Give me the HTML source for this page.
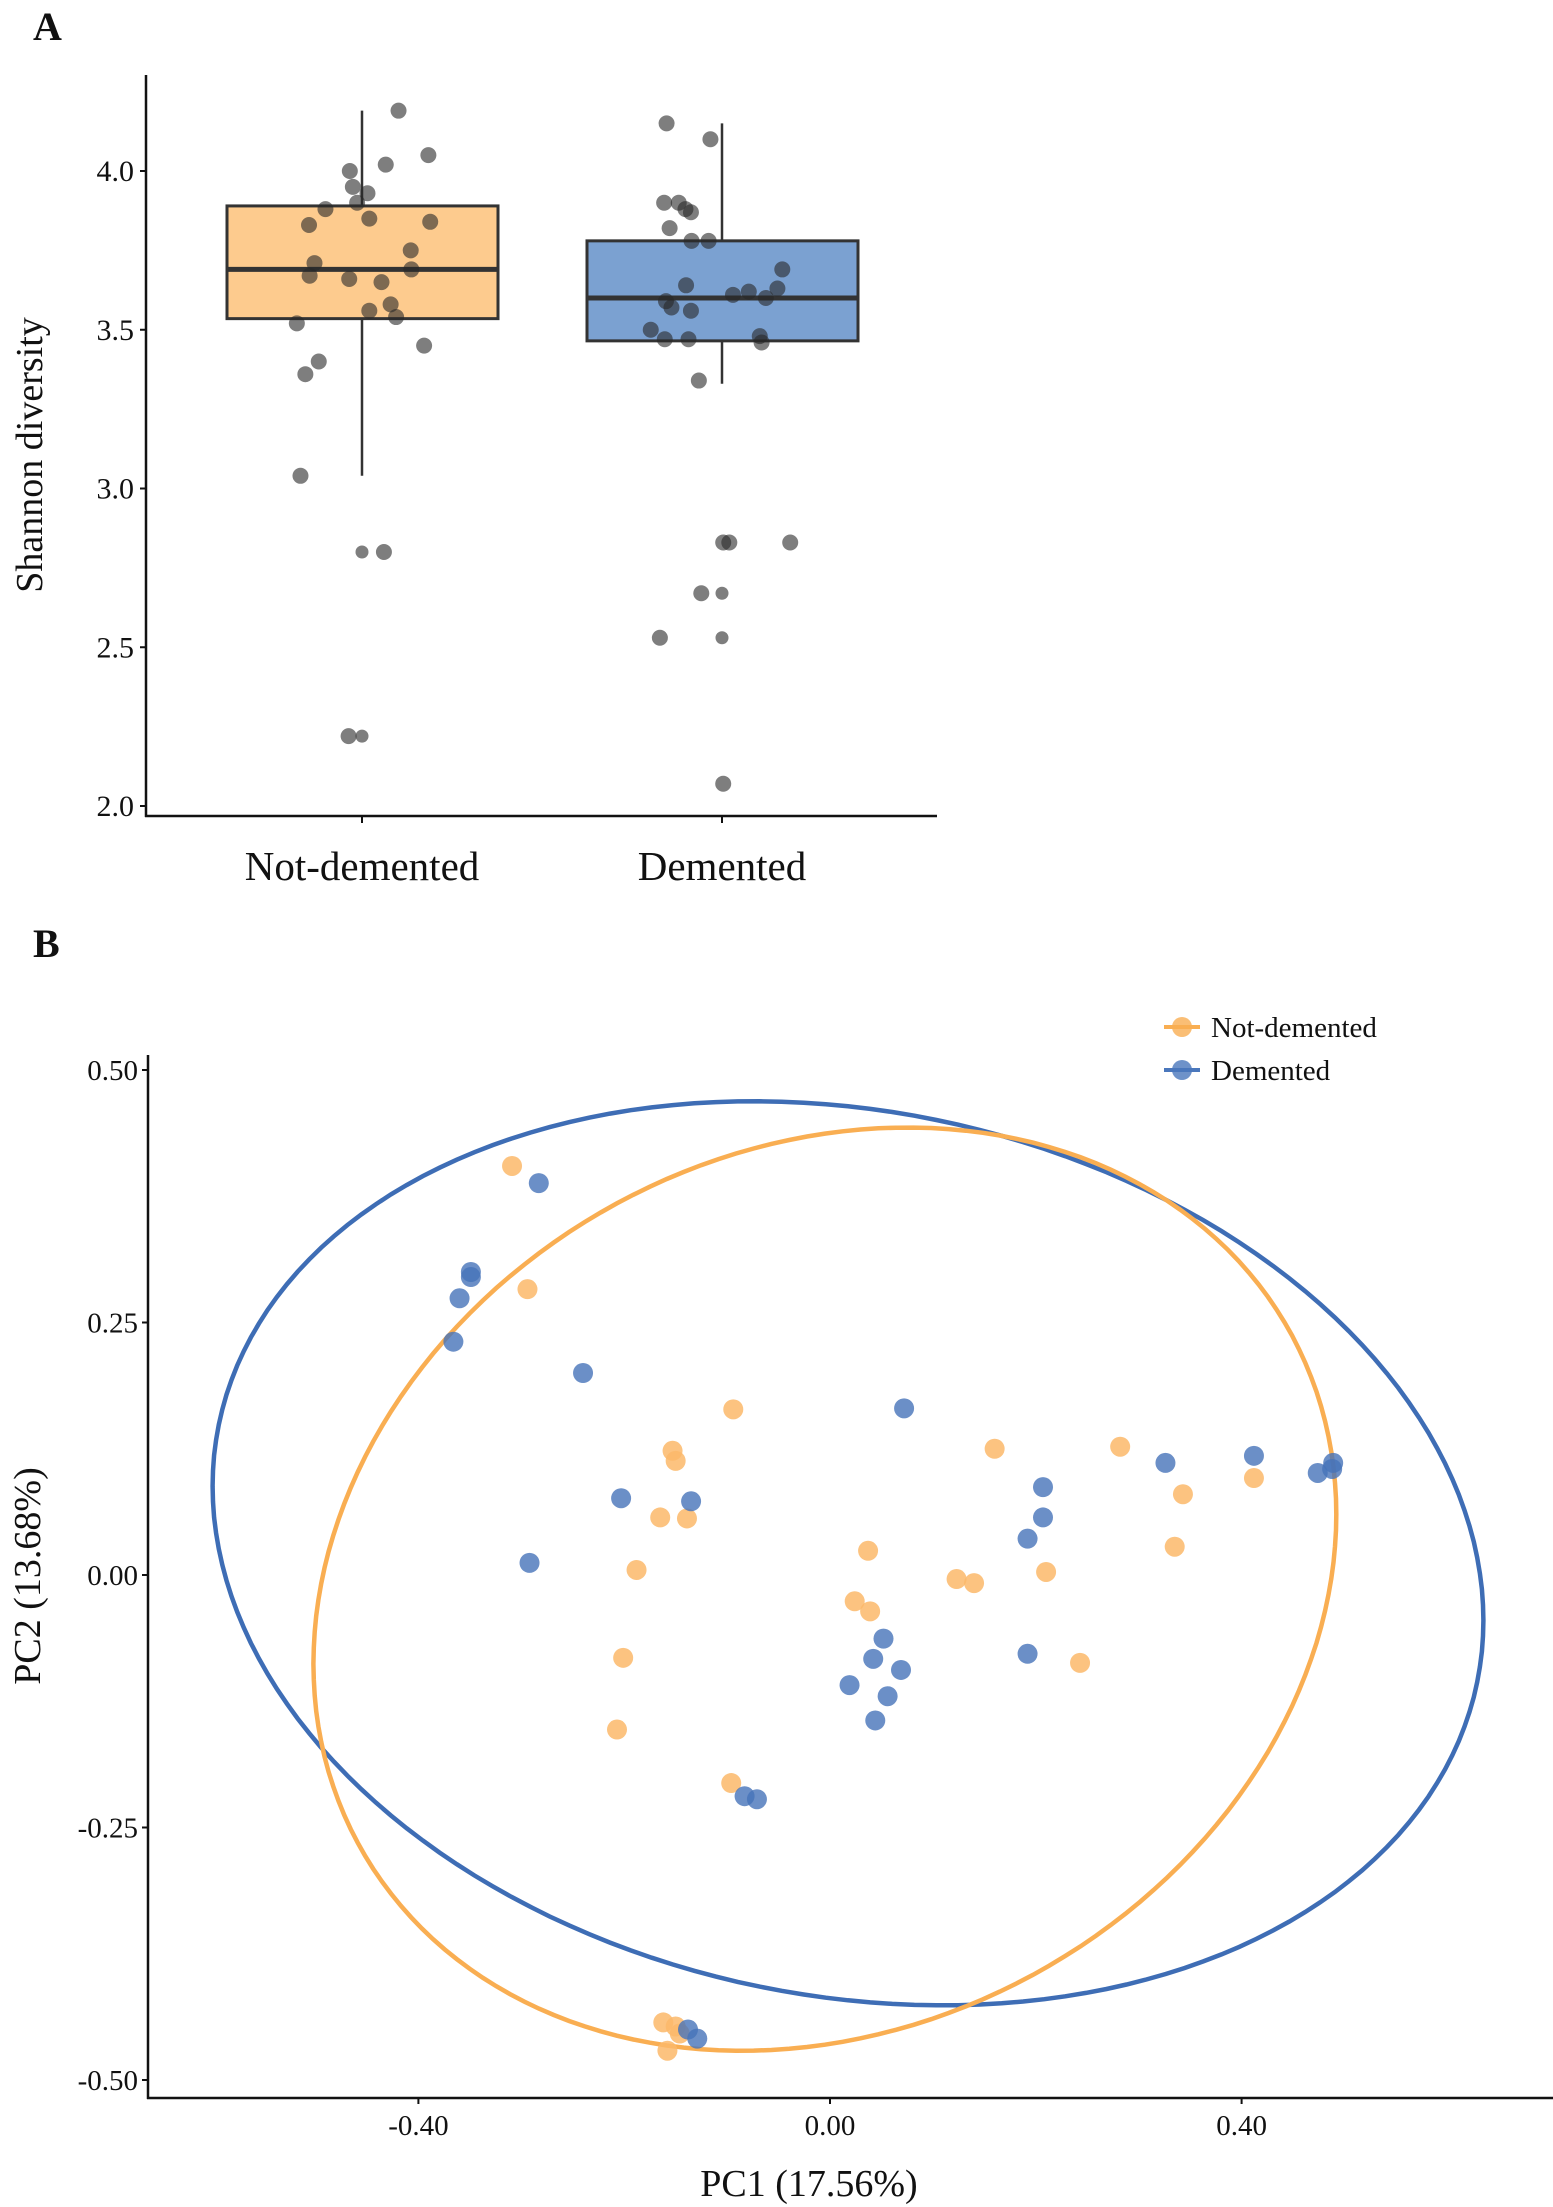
<!DOCTYPE html>
<html><head><meta charset="utf-8"><style>
html,body{margin:0;padding:0;background:#fff;}
svg{display:block;}
text{font-family:"Liberation Serif",serif;fill:#111;}
</style></head><body>
<svg id="fig" width="1553" height="2207" viewBox="0 0 1553 2207">
<text x="33" y="40" font-size="40" font-weight="bold">A</text>
<text x="33" y="957" font-size="40" font-weight="bold">B</text>
<g id="pa"></g>
<g id="pb"></g>
</svg>
<script>
// ---------- Panel A data ----------
const groupsA = ["Not-demented", "Demented"];
const yTicksA = [2.0, 2.5, 3.0, 3.5, 4.0];
const q1A = [3.535, 3.465];
const medA = [3.69, 3.60];
const q3A = [3.89, 3.78];
const whiskLoA = [3.04, 3.33];
const whiskHiA = [4.19, 4.15];
const ndVals = [4.19,4.05,4.00,4.02,3.95,3.93,3.90,3.88,3.85,3.83,3.84,3.71,3.75,3.69,3.67,3.66,3.65,3.58,3.56,3.54,3.52,3.45,3.40,3.36,3.04,2.80,2.80,2.22,2.22];
const ndJit = [60,109,-20,39,-15,9,-8,-60,12,-87,112,-78,80,81,-86,-21,32,47,12,56,-107,102,-71,-93,-101,0,36,-22,0];
const dVals = [4.15,4.10,3.90,3.90,3.88,3.87,3.82,3.78,3.78,3.69,3.64,3.61,3.62,3.63,3.60,3.59,3.57,3.56,3.50,3.48,3.47,3.47,3.46,3.34,2.83,2.83,2.83,2.67,2.67,2.53,2.53,2.07];
const dJit = [-91,-19,-95,-71,-60,-51,-86,-50,-22,99,-59,18,44,91,72,-92,-83,-51,-117,62,-94,-55,65,-38,2,12,112,-34,0,-102,0,2];

const NS="http://www.w3.org/2000/svg";
function mk(tag, attrs, parent){const e=document.createElementNS(NS,tag);for(const k in attrs)e.setAttribute(k,attrs[k]);parent.appendChild(e);return e;}

const pa=document.getElementById('pa');
const yA=v=>806-(v-2.0)*317.5;
const xA=i=>[362,722][i];
const jitScale=1/1.642;
let e;
e=mk('line',{x1:146,y1:75,x2:146,y2:817,stroke:'#111','stroke-width':2.5},pa);


e=mk('line',{x1:145,y1:816,x2:937,y2:816,stroke:'#111','stroke-width':2.5},pa);


yTicksA.forEach(t=>{
  e=mk('line',{x1:140,y1:yA(t),x2:146,y2:yA(t),stroke:'#111','stroke-width':2},pa);
  
  
  e=mk('text',{x:134,y:yA(t)+10,'font-size':30,'text-anchor':'end'},pa);
  e.textContent=t.toFixed(1);
  
  
});
e=mk('text',{x:0,y:0,'font-size':38,'text-anchor':'middle',transform:'translate(42,455) rotate(-90)'},pa);
e.textContent='Shannon diversity';


const fills=['#FDCB8E','#7BA1D1'];
groupsA.forEach((g,i)=>{
  const cx=xA(i);
  e=mk('line',{x1:cx,y1:816,x2:cx,y2:823,stroke:'#111','stroke-width':2},pa);
  
  
  e=mk('text',{x:cx,y:880,'font-size':41,'text-anchor':'middle'},pa);
  e.textContent=g;
  
  
  e=mk('line',{x1:cx,y1:yA(whiskHiA[i]),x2:cx,y2:yA(whiskLoA[i]),stroke:'#333','stroke-width':2.5},pa);
  
  
  e=mk('rect',{x:cx-135,y:yA(q3A[i]),width:271,height:yA(q1A[i])-yA(q3A[i]),fill:fills[i],stroke:'#333','stroke-width':3},pa);
  
  
  e=mk('line',{x1:cx-135,y1:yA(medA[i]),x2:cx+136,y2:yA(medA[i]),stroke:'#333','stroke-width':5},pa);
  
  
});
function ptsA(vals,jit,gi){
  vals.forEach((v,k)=>{
    const small = jit[k]===0;
    e=mk('circle',{cx:xA(gi)+jit[k]*jitScale,cy:yA(v),r:small?6.5:8,fill:'rgba(40,40,40,0.6)'},pa);
    
    
  });
}
ptsA(ndVals,ndJit,0);
ptsA(dVals,dJit,1);

// ---------- Panel B data ----------
const xTicksB = [-0.40, 0.00, 0.40];
const yTicksB = [0.50, 0.25, 0.00, -0.25, -0.50];
const ndPC1 = [-0.309,-0.294,-0.094,-0.153,-0.150,-0.165,-0.139,-0.188,-0.201,-0.207,-0.096,0.037,0.024,0.039,0.123,0.140,0.160,0.210,0.243,0.282,0.343,0.335,0.412,-0.162,-0.150,-0.158,-0.146];
const ndPC2 = [0.405,0.283,0.164,0.123,0.113,0.057,0.056,0.005,-0.082,-0.153,-0.206,0.024,-0.026,-0.036,-0.004,-0.008,0.125,0.003,-0.087,0.127,0.080,0.028,0.096,-0.443,-0.447,-0.471,-0.454];
const dPC1 = [-0.283,-0.349,-0.349,-0.360,-0.366,-0.240,-0.203,-0.135,-0.292,0.072,0.207,0.207,0.192,0.192,0.326,0.412,0.474,0.488,0.489,0.052,0.042,0.069,0.019,0.056,0.044,-0.083,-0.071,-0.138,-0.129];
const dPC2 = [0.388,0.300,0.295,0.274,0.231,0.200,0.076,0.073,0.012,0.165,0.087,0.057,0.036,-0.078,0.111,0.118,0.101,0.105,0.111,-0.063,-0.083,-0.094,-0.109,-0.120,-0.144,-0.219,-0.222,-0.450,-0.459];
const ndEllipse = [-0.005,-0.014,0.497,0.074,0.451];
const dEllipse = [0.0175,0.0215,0.6175,-0.0665,0.4426];

const pb=document.getElementById('pb');
const xB=v=>830+v*1029;
const yB=v=>1575-v*1010;
e=mk('line',{x1:148,y1:1055,x2:148,y2:2099,stroke:'#111','stroke-width':2.5},pb);


e=mk('line',{x1:147,y1:2098,x2:1553,y2:2098,stroke:'#111','stroke-width':2.5},pb);


yTicksB.forEach(t=>{
  e=mk('line',{x1:142,y1:yB(t),x2:148,y2:yB(t),stroke:'#111','stroke-width':2},pb);
  
  
  e=mk('text',{x:138,y:yB(t)+10,'font-size':29,'text-anchor':'end'},pb);
  e.textContent=t.toFixed(2);
  
  
});
xTicksB.forEach(t=>{
  e=mk('line',{x1:xB(t),y1:2098,x2:xB(t),y2:2104,stroke:'#111','stroke-width':2},pb);
  
  
  e=mk('text',{x:xB(t),y:2135,'font-size':29,'text-anchor':'middle'},pb);
  e.textContent=t.toFixed(2);
  
  
});
e=mk('text',{x:0,y:0,'font-size':38,'text-anchor':'middle',transform:'translate(40,1576) rotate(-90)'},pb);
e.textContent='PC2 (13.68%)';


e=mk('text',{x:809,y:2196,'font-size':38,'text-anchor':'middle'},pb);
e.textContent='PC1 (17.56%)';



function ell(p,color,name){
  let d='';
  for(let k=0;k<=180;k++){
    const t=k/180*2*Math.PI;
    const x=p[0]+p[2]*Math.cos(t);
    const y=p[1]+p[3]*Math.cos(t)+p[4]*Math.sin(t);
    d+=(k?'L':'M')+xB(x).toFixed(1)+' '+yB(y).toFixed(1);
  }
  e=mk('path',{d:d+'Z',fill:'none',stroke:color,'stroke-width':4.5},pb);
  
  
}
ell(dEllipse,'#3E6DB5','ellipse-demented');
ell(ndEllipse,'#F9AE52','ellipse-not-demented');
function ptsB(xs,ys,color,name){
  xs.forEach((x,k)=>{
    e=mk('circle',{cx:xB(x),cy:yB(ys[k]),r:10,fill:color},pb);
    
    
  });
}
ptsB(ndPC1,ndPC2,'rgba(251,184,106,0.85)','point-not-demented');
ptsB(dPC1,dPC2,'rgba(70,115,185,0.8)','point-demented');

const legLabels=['Not-demented','Demented'];
const legColors=['#F9AE52','#4A77BC'];
legLabels.forEach((l,i)=>{
  const y=1027+i*43;
  const g=mk('g',{},pb);
  
  
  mk('line',{x1:1164,y1:y,x2:1200,y2:y,stroke:legColors[i],'stroke-width':4},g);
  mk('circle',{cx:1182,cy:y,r:10,fill:legColors[i],opacity:0.8},g);
  const t=mk('text',{x:1211,y:y+10,'font-size':29},g);
  t.textContent=l;
});
</script>
</body></html>
